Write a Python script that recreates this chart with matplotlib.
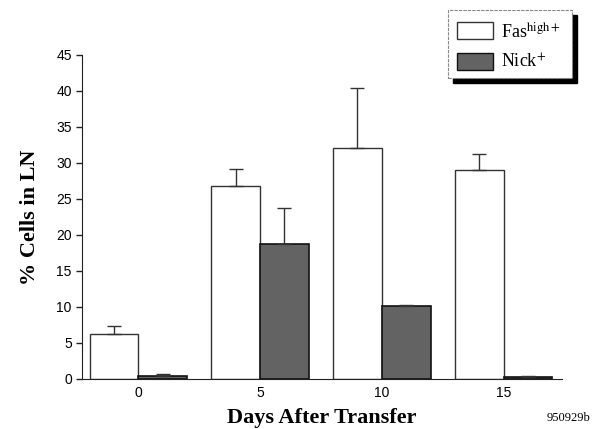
import numpy as np
import matplotlib.pyplot as plt
from matplotlib.patches import Rectangle

plt.rcParams["mathtext.fontset"] = "stix"

# Data
days = ["0", "5", "10", "15"]
fas_high = [6.2, 26.8, 32.1, 29.0]
fas_err = [1.1, 2.4, 8.3, 2.2]
nick = [0.4, 18.7, 10.1, 0.3]
nick_err = [0.3, 5.1, 0.2, 0.15]

# Figure
fig = plt.figure(figsize=(5.96, 4.29), dpi=100)
ax = fig.add_axes([0.138, 0.1166, 0.805, 0.7554])

x = np.arange(len(days))
w = 0.4

ax.bar(x - w / 2, fas_high, w, color="white", edgecolor="#333333", linewidth=1.0,
       yerr=[np.zeros(len(fas_err)), fas_err], capsize=5,
       error_kw=dict(ecolor="#333333", elinewidth=1.0, capthick=1.0))
ax.bar(x + w / 2, nick, w, color="#636363", edgecolor="#111111", linewidth=1.2,
       yerr=[np.zeros(len(nick_err)), nick_err], capsize=5,
       error_kw=dict(ecolor="#333333", elinewidth=1.0, capthick=1.0))

ax.set_xlim(-0.46, 3.48)
ax.set_ylim(0, 45)
ax.set_yticks(np.arange(0, 46, 5))
ax.set_xticks(x)
ax.set_xticklabels(days)

for s in ["top", "right"]:
    ax.spines[s].set_visible(False)
ax.spines["left"].set_color("#222222")
ax.spines["bottom"].set_color("#222222")
ax.tick_params(axis="y", length=4, width=1, labelsize=10, color="#222222")
ax.tick_params(axis="x", length=0, labelsize=10, pad=5)
for lab in ax.get_xticklabels() + ax.get_yticklabels():
    lab.set_family("Liberation Sans")

ax.set_xlabel("Days After Transfer", family="Liberation Serif", weight="bold",
              fontsize=16, labelpad=6)
ax.set_ylabel("% Cells in LN", family="Liberation Serif", weight="bold",
              fontsize=16, labelpad=12)

fig.text(0.99, 0.012, "950929b", family="Liberation Serif", fontsize=9,
         ha="right", va="bottom")

# Legend box with a drop shadow
lx, ly, lw, lh = 448 / 596, 1 - 78 / 429, 124 / 596, 68 / 429
fig.patches.append(Rectangle((lx + 5 / 596, ly - 5 / 429), lw, lh,
                             transform=fig.transFigure, color="black", zorder=1))
fig.patches.append(Rectangle((lx, ly), lw, lh, transform=fig.transFigure,
                             facecolor="white", edgecolor="#888888",
                             linewidth=0.8, linestyle=(0, (3, 1)), zorder=2))
fig.patches.append(Rectangle((lx + 9 / 596, ly + 39 / 429), 36 / 596, 17 / 429,
                             transform=fig.transFigure, facecolor="white",
                             edgecolor="#333333", linewidth=1.0, zorder=3))
fig.patches.append(Rectangle((lx + 9 / 596, ly + 8 / 429), 36 / 596, 17 / 429,
                             transform=fig.transFigure, facecolor="#636363",
                             edgecolor="#111111", linewidth=1.0, zorder=3))
fig.text(lx + 53 / 596, ly + 46 / 429, r"Fas$^{\mathrm{high+}}$",
         family="Liberation Serif", fontsize=13, va="center", zorder=4)
fig.text(lx + 53 / 596, ly + 16 / 429, r"Nick$^{+}$",
         family="Liberation Serif", fontsize=13, va="center", zorder=4)

fig.savefig("out.png", dpi=100)
